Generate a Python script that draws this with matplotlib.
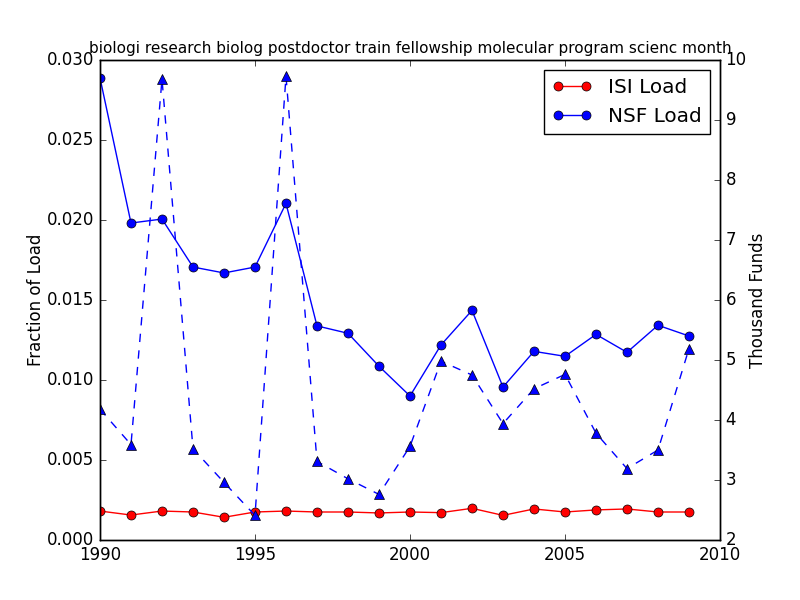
import matplotlib
matplotlib.use("Agg")
import matplotlib.pyplot as plt

plt.style.use('classic')

years = list(range(1990, 2010))
isi_load = [0.00181, 0.00156, 0.00181, 0.00175, 0.00142, 0.00175, 0.00181, 0.00175,
            0.00175, 0.00169, 0.00175, 0.00171, 0.00198, 0.00154, 0.00194, 0.00175,
            0.00188, 0.00194, 0.00175, 0.00175]
nsf_load = [0.02888, 0.01981, 0.02006, 0.01706, 0.01669, 0.01706, 0.02104, 0.01338,
            0.01292, 0.01086, 0.00900, 0.01219, 0.01435, 0.00956, 0.01179, 0.01148,
            0.01285, 0.01173, 0.01342, 0.01275]
nsf_funds = [4.18, 3.59, 9.68, 3.52, 2.96, 2.41, 9.73, 3.31, 3.02, 2.76,
             3.56, 4.98, 4.75, 3.94, 4.52, 4.76, 3.78, 3.19, 3.50, 5.19]

title = "biologi research biolog postdoctor train fellowship molecular program scienc month"

fig, ax = plt.subplots(figsize=(8, 6), dpi=100)
ax.plot(years, isi_load, 'r-o', markersize=6.5, label='ISI Load')
ax.plot(years, nsf_load, 'b-o', markersize=6.5, label='NSF Load')
ax.set_ylabel('Fraction of Load', labelpad=1.5)
ax.set_ylim(0, 0.030)
ax.set_xlim(1990, 2010)
ax.ticklabel_format(axis='x', useOffset=False)
ax.set_title(title, fontsize=11)
ax.legend(loc='upper right', numpoints=2)

ax2 = ax.twinx()
ax2.plot(years, nsf_funds, 'b--^', markersize=6.5)
ax2.set_ylabel('Thousand Funds', labelpad=1.5)
ax2.set_ylim(2, 10)
ax2.set_xlim(1990, 2010)
ax2.ticklabel_format(axis='x', useOffset=False)

fig.savefig('out.png', dpi=100)
